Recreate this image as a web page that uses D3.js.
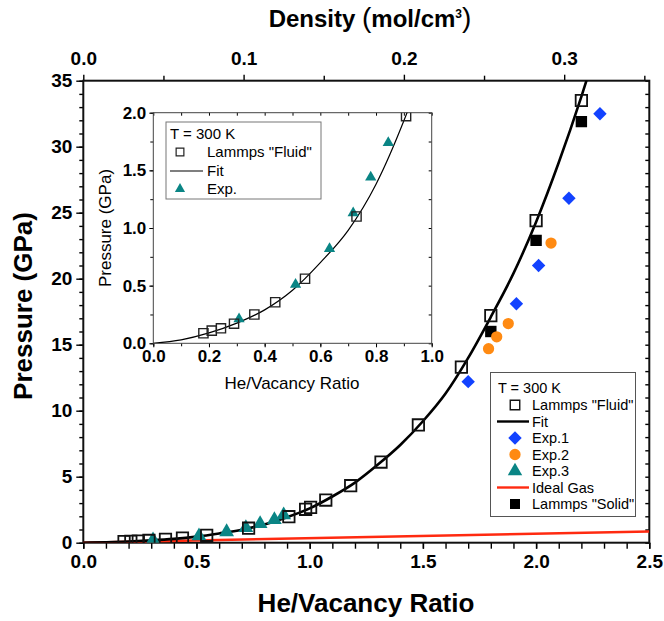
<!DOCTYPE html>
<html>
<head>
<meta charset="utf-8">
<script src="https://cdn.jsdelivr.net/npm/d3@7"></script>
<style>
  body { margin: 0; background: #fff; }
  svg text { font-family: "Liberation Sans", Arial, sans-serif; }
</style>
</head>
<body>
<div id="chart"></div>
<script>
// data
var fluidRatio = [0.18, 0.21, 0.243, 0.29, 0.363, 0.438, 0.545, 0.73, 0.908, 0.982, 1.004, 1.071, 1.181, 1.315, 1.48, 1.67, 1.8, 2.0, 2.2];
var fluidP = [0.087, 0.11, 0.13, 0.17, 0.25, 0.356, 0.56, 1.10, 1.97, 2.53, 2.68, 3.23, 4.32, 6.11, 8.92, 13.3, 17.2, 24.4, 33.5];

var solidRatio = [1.8, 2.0, 2.2];
var solidP = [16.0, 22.9, 31.9];

var exp1Ratio = [1.70, 1.913, 2.011, 2.145, 2.282];
var exp1P = [12.2, 18.1, 21.0, 26.1, 32.5];

var exp2Ratio = [1.79, 1.826, 1.877, 2.066];
var exp2P = [14.7, 15.6, 16.6, 22.7];

var exp3Ratio = [0.308, 0.511, 0.633, 0.718, 0.781, 0.844, 0.885];
var exp3P = [0.21, 0.51, 0.82, 1.13, 1.44, 1.74, 2.1];

var fitRatio = [0, 0.1, 0.2, 0.3, 0.4, 0.5, 0.6, 0.7, 0.8, 0.9, 1.0, 1.1, 1.2, 1.3, 1.4, 1.5, 1.6, 1.7, 1.8, 1.9, 2.0, 2.1, 2.2, 2.25];
var fitP = [0, 0.03, 0.09, 0.175, 0.29, 0.46, 0.70, 0.98, 1.38, 1.93, 2.6, 3.5, 4.55, 5.9, 7.4, 9.2, 11.3, 14.0, 17.1, 20.4, 24.3, 28.8, 33.8, 36.5];

var idealRatio = [0, 2.5];
var idealP = [0, 0.85];

var xTicks = [0, 0.5, 1.0, 1.5, 2.0, 2.5];
var yTicks = [0, 5, 10, 15, 20, 25, 30, 35];
var densTicks = [0, 0.1, 0.2, 0.3];
var insetXTicks = [0, 0.2, 0.4, 0.6, 0.8, 1.0];
var insetYTicks = [0, 0.5, 1.0, 1.5, 2.0];

var BLUE = "#1242ff", ORANGE = "#ff8a12", TEAL = "#0a8585", RED = "#ff2a10";

function zip(a, b) { return a.map(function (v, i) { return [v, b[i]]; }); }

var W = 664, H = 621;
var svg = d3.select("#chart").append("svg")
  .attr("width", W).attr("height", H);

// main plot scales
var m = { left: 83.3, right: 649.3, top: 80.7, bottom: 542.7 };
var x = d3.scaleLinear().domain([0, 2.5]).range([m.left, m.right]);
var y = d3.scaleLinear().domain([0, 35]).range([m.bottom, m.top]);
var xd = d3.scaleLinear().domain([0, 0.3531]).range([m.left, m.right]);

svg.append("clipPath").attr("id", "clipMain")
  .append("rect").attr("x", m.left).attr("y", m.top)
  .attr("width", m.right - m.left).attr("height", m.bottom - m.top);

function styleAxis(g, size, weight) {
  g.select(".domain").remove();
  g.selectAll(".tick line").attr("stroke", "#000").attr("stroke-width", 1.4);
  g.selectAll("text").attr("fill", "#000")
    .style("font-size", size + "px").style("font-weight", weight);
}

// bottom axis
var gx = svg.append("g").attr("transform", "translate(0," + m.bottom + ")")
  .call(d3.axisBottom(x).tickValues(xTicks).tickSize(6).tickPadding(6).tickFormat(d3.format(".1f")));
styleAxis(gx, 19, "bold");
var gxm = svg.append("g").attr("transform", "translate(0," + m.bottom + ")")
  .call(d3.axisBottom(x).tickValues(d3.range(0, 26).map(function (i) { return i / 10; })).tickSize(6).tickFormat(""));
styleAxis(gxm, 19, "bold");

// left axis
var gy = svg.append("g").attr("transform", "translate(" + m.left + ",0)")
  .call(d3.axisLeft(y).tickValues(yTicks).tickSize(7).tickPadding(4));
styleAxis(gy, 19, "bold");
var gym = svg.append("g").attr("transform", "translate(" + m.left + ",0)")
  .call(d3.axisLeft(y).tickValues(d3.range(0, 36)).tickSize(4).tickFormat(""));
styleAxis(gym, 19, "bold");

// right axis (inward ticks)
var gr = svg.append("g").attr("transform", "translate(" + m.right + ",0)")
  .call(d3.axisLeft(y).tickValues(d3.range(0, 36)).tickSize(4).tickFormat(""));
styleAxis(gr, 19, "bold");

// top density axis
var gt = svg.append("g").attr("transform", "translate(0," + m.top + ")")
  .call(d3.axisTop(xd).tickValues(densTicks).tickSize(6).tickPadding(10).tickFormat(d3.format(".1f")));
styleAxis(gt, 19, "bold");
var gtm = svg.append("g").attr("transform", "translate(0," + m.top + ")")
  .call(d3.axisTop(xd).tickValues([0.05, 0.15, 0.25, 0.35]).tickSize(5).tickFormat(""));
styleAxis(gtm, 19, "bold");

// frame
svg.append("rect").attr("x", m.left).attr("y", m.top)
  .attr("width", m.right - m.left).attr("height", m.bottom - m.top)
  .attr("fill", "none").attr("stroke", "#111").attr("stroke-width", 2);

// titles
svg.append("text").attr("x", 366).attr("y", 612).attr("text-anchor", "middle")
  .style("font-size", "26px").style("font-weight", "bold").text("He/Vacancy Ratio");
svg.append("text").attr("transform", "translate(32,306) rotate(-90)").attr("text-anchor", "middle")
  .style("font-size", "26px").style("font-weight", "bold").text("Pressure (GPa)");
var dt = svg.append("text").attr("x", 370).attr("y", 27).attr("text-anchor", "middle")
  .style("font-size", "24px").style("font-weight", "bold");
dt.append("tspan").text("Density ");
dt.append("tspan").style("font-size", "28px").style("font-weight", "normal").text("(");
dt.append("tspan").text("mol/cm");
dt.append("tspan").attr("dy", -9).style("font-size", "12px").text("3");
dt.append("tspan").attr("dy", 9).style("font-size", "28px").style("font-weight", "normal").text(")");

// main marks
var plot = svg.append("g").attr("clip-path", "url(#clipMain)");
plot.append("path").datum(zip(idealRatio, idealP))
  .attr("fill", "none").attr("stroke", RED).attr("stroke-width", 2.6)
  .attr("d", d3.line().x(function (d) { return x(d[0]); }).y(function (d) { return y(d[1]); }));
plot.append("path").datum(zip(fitRatio, fitP))
  .attr("fill", "none").attr("stroke", "#000").attr("stroke-width", 2.6)
  .attr("d", d3.line().curve(d3.curveMonotoneX).x(function (d) { return x(d[0]); }).y(function (d) { return y(d[1]); }));

function drawSymbols(g, sx, sy, data, type, size, fill, stroke, sw, rot) {
  g.selectAll(null).data(data).enter().append("path")
    .attr("transform", function (d) { return "translate(" + sx(d[0]) + "," + sy(d[1]) + ")" + (rot ? " rotate(45)" : ""); })
    .attr("d", d3.symbol().type(type).size(size))
    .attr("fill", fill).attr("stroke", stroke).attr("stroke-width", sw);
}

drawSymbols(plot, x, y, zip(exp3Ratio, exp3P), d3.symbolTriangle, 95, TEAL, "none", 0);
drawSymbols(plot, x, y, zip(fluidRatio, fluidP), d3.symbolSquare, 130, "none", "#111", 1.8);
drawSymbols(plot, x, y, zip(solidRatio, solidP), d3.symbolSquare, 130, "#000", "none", 0);
drawSymbols(plot, x, y, zip(exp2Ratio, exp2P), d3.symbolCircle, 100, ORANGE, "none", 0);
drawSymbols(plot, x, y, zip(exp1Ratio, exp1P), d3.symbolSquare, 90, BLUE, "none", 0, true);

// main legend
var lg = svg.append("g");
lg.append("rect").attr("x", 490.5).attr("y", 372.5).attr("width", 145).attr("height", 144)
  .attr("fill", "#fff").attr("stroke", "#555").attr("stroke-width", 1);
lg.append("text").attr("x", 498).attr("y", 393).style("font-size", "14.5px").text("T = 300 K");
var legItems = [
  { label: "Lammps \"Fluid\"", kind: "sym", type: d3.symbolSquare, fill: "none", stroke: "#111", size: 90 },
  { label: "Fit", kind: "line", color: "#000" },
  { label: "Exp.1", kind: "sym", type: d3.symbolSquare, fill: BLUE, stroke: "none", size: 90, rot: true },
  { label: "Exp.2", kind: "sym", type: d3.symbolCircle, fill: ORANGE, stroke: "none", size: 100 },
  { label: "Exp.3", kind: "sym", type: d3.symbolTriangle, fill: TEAL, stroke: "none", size: 90 },
  { label: "Ideal Gas", kind: "line", color: RED },
  { label: "Lammps \"Solid\"", kind: "sym", type: d3.symbolSquare, fill: "#000", stroke: "none", size: 100 }
];
legItems.forEach(function (it, i) {
  var cy = 405 + i * 16.5;
  if (it.kind === "line") {
    lg.append("line").attr("x1", 497).attr("x2", 529).attr("y1", cy).attr("y2", cy)
      .attr("stroke", it.color).attr("stroke-width", 2.4);
  } else {
    lg.append("path").attr("transform", "translate(515," + cy + ")" + (it.rot ? " rotate(45)" : ""))
      .attr("d", d3.symbol().type(it.type).size(it.size))
      .attr("fill", it.fill).attr("stroke", it.stroke).attr("stroke-width", 1.4);
  }
  lg.append("text").attr("x", 532).attr("y", cy + 5).style("font-size", "14.5px").text(it.label);
});

// inset
var n = { left: 153.3, right: 431.7, top: 112.7, bottom: 343.3 };
var ix = d3.scaleLinear().domain([0, 1]).range([n.left, n.right]);
var iy = d3.scaleLinear().domain([0, 2]).range([n.bottom, n.top]);

svg.append("clipPath").attr("id", "clipInset")
  .append("rect").attr("x", n.left).attr("y", n.top)
  .attr("width", n.right - n.left).attr("height", n.bottom - n.top);

svg.append("rect").attr("x", n.left).attr("y", n.top)
  .attr("width", n.right - n.left).attr("height", n.bottom - n.top)
  .attr("fill", "#fff").attr("stroke", "none");

var ixa = svg.append("g").attr("transform", "translate(0," + n.bottom + ")")
  .call(d3.axisBottom(ix).tickValues(insetXTicks).tickSize(4).tickPadding(3).tickFormat(d3.format(".1f")));
styleAxis(ixa, 17, "bold");
var ixm = svg.append("g").attr("transform", "translate(0," + n.bottom + ")")
  .call(d3.axisBottom(ix).tickValues(d3.range(0, 11).map(function (i) { return i / 10; })).tickSize(3).tickFormat(""));
styleAxis(ixm, 17, "bold");
var ixt = svg.append("g").attr("transform", "translate(0," + n.top + ")")
  .call(d3.axisBottom(ix).tickValues(d3.range(0, 11).map(function (i) { return i / 10; })).tickSize(3).tickFormat(""));
styleAxis(ixt, 17, "bold");
var iya = svg.append("g").attr("transform", "translate(" + n.left + ",0)")
  .call(d3.axisLeft(iy).tickValues(insetYTicks).tickSize(4).tickPadding(3).tickFormat(d3.format(".1f")));
styleAxis(iya, 17, "bold");
var iym = svg.append("g").attr("transform", "translate(" + n.left + ",0)")
  .call(d3.axisLeft(iy).tickValues(d3.range(0, 9).map(function (i) { return i / 4; })).tickSize(3).tickFormat(""));
styleAxis(iym, 17, "bold");
var iyr = svg.append("g").attr("transform", "translate(" + n.right + ",0)")
  .call(d3.axisLeft(iy).tickValues(d3.range(0, 9).map(function (i) { return i / 4; })).tickSize(3).tickFormat(""));
styleAxis(iyr, 17, "bold");
[ixa, ixm, ixt, iya, iym, iyr].forEach(function (g) { g.selectAll(".tick line").attr("stroke-width", 1); });

svg.append("rect").attr("x", n.left).attr("y", n.top)
  .attr("width", n.right - n.left).attr("height", n.bottom - n.top)
  .attr("fill", "none").attr("stroke", "#444").attr("stroke-width", 1);

svg.append("text").attr("x", 292).attr("y", 389).attr("text-anchor", "middle")
  .style("font-size", "17px").text("He/Vacancy Ratio");
svg.append("text").attr("transform", "translate(111,228) rotate(-90)").attr("text-anchor", "middle")
  .style("font-size", "17px").text("Pressure (GPa)");

var inset = svg.append("g").attr("clip-path", "url(#clipInset)");
inset.append("path").datum(zip(fitRatio, fitP))
  .attr("fill", "none").attr("stroke", "#000").attr("stroke-width", 1.2)
  .attr("d", d3.line().curve(d3.curveMonotoneX).x(function (d) { return ix(d[0]); }).y(function (d) { return iy(d[1]); }));
drawSymbols(inset, ix, iy, zip(exp3Ratio, exp3P), d3.symbolTriangle, 55, TEAL, "none", 0);
drawSymbols(inset, ix, iy, zip(fluidRatio, fluidP), d3.symbolSquare, 85, "none", "#222", 1.4);

// inset legend
var il = svg.append("g");
il.append("rect").attr("x", 166).attr("y", 122).attr("width", 155).attr("height", 77)
  .attr("fill", "#fff").attr("stroke", "#777").attr("stroke-width", 1);
il.append("text").attr("x", 170).attr("y", 139).style("font-size", "15px").text("T = 300 K");
il.append("path").attr("transform", "translate(180,152)")
  .attr("d", d3.symbol().type(d3.symbolSquare).size(60))
  .attr("fill", "none").attr("stroke", "#222").attr("stroke-width", 1.2);
il.append("text").attr("x", 207).attr("y", 157).style("font-size", "15px").text("Lammps \"Fluid\"");
il.append("line").attr("x1", 170).attr("x2", 203).attr("y1", 171).attr("y2", 171)
  .attr("stroke", "#000").attr("stroke-width", 1.2);
il.append("text").attr("x", 207).attr("y", 176).style("font-size", "15px").text("Fit");
il.append("path").attr("transform", "translate(180,189)")
  .attr("d", d3.symbol().type(d3.symbolTriangle).size(45))
  .attr("fill", TEAL);
il.append("text").attr("x", 207).attr("y", 194).style("font-size", "15px").text("Exp.");
</script>
</body>
</html>
